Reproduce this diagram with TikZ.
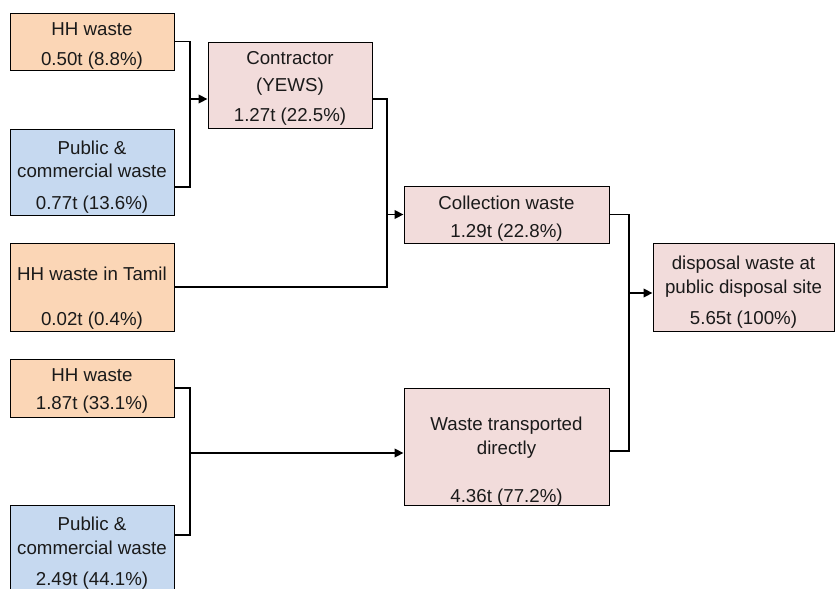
\documentclass[tikz,border=0pt]{standalone}
\usepackage{fontspec}
\setmainfont{Liberation Sans}
\usetikzlibrary{arrows.meta}
\definecolor{boxorange}{RGB}{251,214,182}
\definecolor{boxblue}{RGB}{198,217,240}
\definecolor{boxpink}{RGB}{242,220,219}
\definecolor{txt}{RGB}{26,26,26}
\tikzset{
  wbox/.style={draw=black, line width=0.9pt, inner sep=0pt, minimum width=164pt},
  hh/.style={wbox, fill=boxorange},
  pub/.style={wbox, fill=boxblue},
  flow/.style={wbox, fill=boxpink},
  lbl/.style={align=center, inner sep=0pt, text=txt, font=\fontsize{18.7}{20}\selectfont},
  conn/.style={line width=1.8pt, line join=miter},
  arr/.style={conn, -{Triangle[length=9pt,width=8.5pt]}}
}
\begin{document}
\begin{tikzpicture}[x=1pt,y=-1pt]
\clip (0,0) rectangle (836,589);
% boxes
\node[hh, minimum height=57pt] (b1) at (92,41.5) {};
\node[pub, minimum height=86pt] (b2) at (92,172) {};
\node[flow, minimum height=86pt] (c) at (290,85) {};
\node[hh, minimum height=88pt] (t) at (92,287) {};
\node[flow, minimum width=205pt, minimum height=57pt] (col) at (506.5,214.5) {};
\node[flow, minimum width=181pt, minimum height=88pt] (dis) at (743.5,287) {};
\node[hh, minimum height=58pt] (h2) at (92,388) {};
\node[flow, minimum width=205pt, minimum height=117pt] (wt) at (506.5,446.5) {};
\node[pub, minimum height=100pt] (p2) at (92,555) {};
% texts
\node[lbl] (b1t) at (92,46.2) {HH waste\\[10pt]0.50t (8.8\%)};
\node[lbl] (b2t) at (92,176.7) {Public \&\\[3pt]commercial waste\\[12pt]0.77t (13.6\%)};
\node[lbl] (ct) at (290,88.7) {Contractor\\[7pt](YEWS)\\[10pt]1.27t (22.5\%)};
\node[lbl] (tt) at (92,297.7) {HH waste in Tamil\\[25pt]0.02t (0.4\%)};
\node[lbl] (colt) at (506.5,218.2) {Collection waste\\[8pt]1.29t (22.8\%)};
\node[lbl] (dist) at (743.5,291.7) {disposal waste at\\[4pt]public disposal site\\[11pt]5.65t (100\%)};
\node[lbl] (h2t) at (92,391.2) {HH waste\\[8pt]1.87t (33.1\%)};
\node[lbl] (wtt) at (506.5,461.2) {Waste transported\\[4pt]directly\\[28pt]4.36t (77.2\%)};
\node[lbl] (p2t) at (92,552.7) {Public \&\\[4pt]commercial waste\\[11pt]2.49t (44.1\%)};
% junction coordinates
\coordinate (j1) at (190,187);
\coordinate (a1) at (190,99);
\coordinate (j2) at (387,99);
\coordinate (j3) at (629,451);
\coordinate (a3) at (629,293);
\coordinate (j4) at (190,535);
\coordinate (a4) at (190,453);
% connectors
\draw[conn] (b1.east) -| (j1) -- (b2.east |- j1);
\draw[arr] (a1) -- (c.west |- a1);
\draw[conn] (c.east |- j2) -- (j2) |- (t.east);
\draw[arr] (j2 |- col.west) -- (col.west);
\draw[conn] (col.east) -| (j3) -- (wt.east |- j3);
\draw[arr] (a3) -- (dis.west |- a3);
\draw[conn] (h2.east) -| (j4) -- (p2.east |- j4);
\draw[arr] (a4) -- (wt.west |- a4);
\end{tikzpicture}
\end{document}
